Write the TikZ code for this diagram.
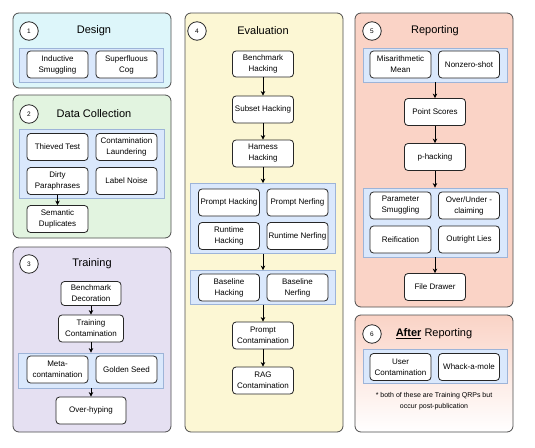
\documentclass[tikz,border=0pt]{standalone}
\usepackage{fontspec}
\setmainfont{Liberation Sans}
\usetikzlibrary{arrows.meta,positioning}

\definecolor{designbg}{HTML}{DDF6FA}
\definecolor{databg}{HTML}{E2F4E0}
\definecolor{trainbg}{HTML}{E5E0F2}
\definecolor{evalbg}{HTML}{FCF7D4}
\definecolor{reportbg}{HTML}{FAD3C6}
\definecolor{grpbg}{HTML}{DAE8FC}
\definecolor{grpline}{HTML}{9DB4D8}

\begin{document}
\begin{tikzpicture}[x=1pt,y=-1pt,
  panel/.style={draw=black!70,rounded corners=6pt,line width=0.8pt},
  grp/.style={draw=grpline,fill=grpbg,line width=0.8pt,inner sep=0pt},
  qrp/.style={draw=black!85,fill=white,rounded corners=3.5pt,line width=0.8pt,
    minimum width=61pt,minimum height=27pt,align=center,inner sep=1pt,
    font=\fontsize{8}{11}\selectfont},
  num/.style={draw=black!85,fill=white,circle,minimum size=18.5pt,inner sep=0pt,
    line width=0.8pt,font=\fontsize{6.5}{7}\selectfont},
  ttl/.style={font=\fontsize{11}{13}\selectfont},
  flow/.style={-{Stealth[length=4.5pt,width=4.5pt]},line width=1pt}]

  \useasboundingbox (0,0) rectangle (535,447);

  % panels
  \draw[panel,fill=designbg] (13,13) rectangle (171,88);
  \draw[panel,fill=databg] (13,95) rectangle (171,238);
  \draw[panel,fill=trainbg] (13,247) rectangle (171,432);
  \draw[panel,fill=evalbg] (185,13) rectangle (343,432);
  \draw[panel,fill=reportbg] (355,13) rectangle (513,307);
  \draw[panel,top color=reportbg,bottom color=white] (355,315) rectangle (513,432);

  % 1 design
  \node[num] (n1) at (29,31) {1};
  \node[ttl] (t1) at (94,31) {Design};
  \node[grp,minimum width=144pt,minimum height=34pt] (g1) at (91,65) {};
  \node[qrp] (induct) at (57.5,64.5) {Inductive\\Smuggling};
  \node[qrp] (cog) at (126.5,64.5) {Superfluous\\Cog};

  % 2 data collection
  \node[num] (n2) at (29,114) {2};
  \node[ttl] (t2) at (94,114) {Data Collection};
  \node[grp,minimum width=145pt,minimum height=69pt] (g2) at (91.5,163.5) {};
  \node[qrp] (thieved) at (57.5,147) {Thieved Test};
  \node[qrp] (launder) at (126.5,147) {Contamination\\Laundering};
  \node[qrp] (dirty) at (57.5,181) {Dirty\\Paraphrases};
  \node[qrp] (noise) at (126.5,181) {Label Noise};
  \node[qrp] (semdup) at (57.5,219) {Semantic\\Duplicates};
  \draw[flow] (dirty) -- (semdup);

  % 3 training
  \node[num] (n3) at (29,264) {3};
  \node[ttl] (t3) at (92,264) {Training};
  \node[qrp,minimum width=60pt,minimum height=24pt] (benchdec) at (91,293.5) {Benchmark\\Decoration};
  \node[qrp,minimum width=65pt] (traincont) at (91,328.5) {Training\\Contamination};
  \node[grp,minimum width=145pt,minimum height=35pt] (g3) at (91,370.5) {};
  \node[qrp] (meta) at (57.5,369.5) {Meta-\\contamination};
  \node[qrp] (golden) at (126.5,369.5) {Golden Seed};
  \node[qrp,minimum width=70pt] (overhype) at (91,410.5) {Over-hyping};
  \draw[flow] (benchdec) -- (traincont);
  \draw[flow] (traincont) -- (g3);
  \draw[flow] (g3) -- (overhype);

  % 4 evaluation
  \node[num] (n4) at (197,31) {4};
  \node[ttl] (t4) at (263,31) {Evaluation};
  \node[qrp,minimum height=26pt] (benchhack) at (263,64) {Benchmark\\Hacking};
  \node[qrp] (subset) at (263,109.5) {Subset Hacking};
  \node[qrp] (harness) at (263,153.5) {Harness\\Hacking};
  \node[grp,minimum width=145pt,minimum height=70pt] (g4a) at (263,218.5) {};
  \node[qrp] (prompthack) at (229,202.5) {Prompt Hacking};
  \node[qrp] (promptnerf) at (297.5,202.5) {Prompt Nerfing};
  \node[qrp] (runhack) at (229,236) {Runtime\\Hacking};
  \node[qrp] (runnerf) at (297.5,236) {Runtime Nerfing};
  \node[grp,minimum width=145pt,minimum height=34pt] (g4b) at (263,287.5) {};
  \node[qrp] (basehack) at (229,287.5) {Baseline\\Hacking};
  \node[qrp] (basenerf) at (297.5,287.5) {Baseline\\Nerfing};
  \node[qrp] (promptcont) at (263,335.5) {Prompt\\Contamination};
  \node[qrp] (rag) at (263,380.5) {RAG\\Contamination};
  \draw[flow] (benchhack) -- (subset);
  \draw[flow] (subset) -- (harness);
  \draw[flow] (harness) -- (g4a);
  \draw[flow] (g4a) -- (g4b);
  \draw[flow] (g4b) -- (promptcont);
  \draw[flow] (promptcont) -- (rag);

  % 5 reporting
  \node[num] (n5) at (372,31) {5};
  \node[ttl] (t5) at (435,31) {Reporting};
  \node[grp,minimum width=144pt,minimum height=34pt] (g5a) at (435,65) {};
  \node[qrp] (misarith) at (400.5,64.5) {Misarithmetic\\Mean};
  \node[qrp] (nonzero) at (469,64.5) {Nonzero-shot};
  \node[qrp] (points) at (435,112) {Point Scores};
  \node[qrp] (phack) at (435,157) {p-hacking};
  \node[grp,minimum width=144pt,minimum height=69pt] (g5b) at (435,222.5) {};
  \node[qrp] (paramsmug) at (400.5,205.5) {Parameter\\Smuggling};
  \node[qrp] (overunder) at (469,205.5) {Over/Under -\\claiming};
  \node[qrp] (reif) at (400.5,239.5) {Reification};
  \node[qrp] (lies) at (469,239.5) {Outright Lies};
  \node[qrp] (drawer) at (435,287) {File Drawer};
  \draw[flow] (g5a) -- (points);
  \draw[flow] (points) -- (phack);
  \draw[flow] (phack) -- (g5b);
  \draw[flow] (g5b) -- (drawer);

  % 6 after reporting
  \node[num] (n6) at (372,334) {6};
  \node[ttl] (t6) at (434,334) {\underline{\textbf{After}} Reporting};
  \node[grp,minimum width=144pt,minimum height=34pt] (g6) at (435,366) {};
  \node[qrp] (usercont) at (400.5,367) {User\\Contamination};
  \node[qrp] (whack) at (469,367) {Whack-a-mole};
  \node[font=\fontsize{7}{11}\selectfont,align=center] (note) at (434,401.5)
    {* both of these are Training QRPs but\\occur post-publication};

\end{tikzpicture}
\end{document}
